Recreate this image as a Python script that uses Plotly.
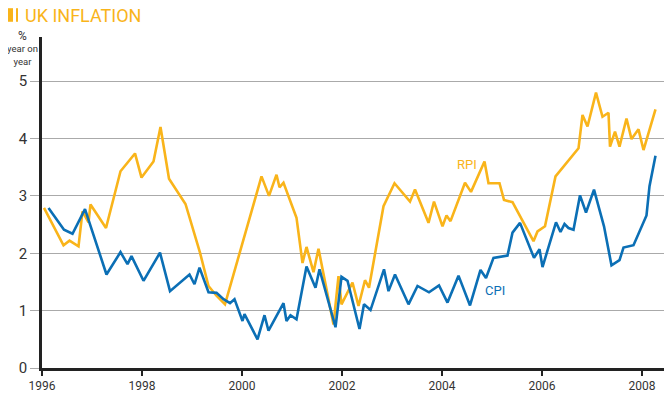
import plotly.graph_objects as go

# RPI, % year on year
rpi_x = [1996.04, 1996.43, 1996.55, 1996.73, 1996.81, 1996.93, 1996.97, 1997.28,
         1997.57, 1997.86, 1997.99, 1998.23, 1998.37, 1998.54, 1998.87, 1999.16,
         1999.33, 1999.49, 1999.66, 2000.39, 2000.54, 2000.69, 2000.75, 2000.83,
         2001.09, 2001.21, 2001.29, 2001.43, 2001.53, 2001.83, 2001.93, 2001.99,
         2002.21, 2002.33, 2002.46, 2002.54, 2002.83, 2003.05, 2003.36, 2003.46,
         2003.73, 2003.84, 2004.01, 2004.09, 2004.17, 2004.46, 2004.58, 2004.85,
         2004.93, 2005.15, 2005.24, 2005.41, 2005.83, 2005.91, 2006.06, 2006.27,
         2006.73, 2006.81, 2006.91, 2007.08, 2007.21, 2007.33, 2007.36, 2007.46,
         2007.55, 2007.69, 2007.79, 2007.93, 2008.03, 2008.27]
rpi_y = [2.79, 2.14, 2.22, 2.12, 2.73, 2.54, 2.85, 2.44,
         3.43, 3.74, 3.32, 3.60, 4.20, 3.30, 2.86, 2.01,
         1.43, 1.26, 1.11, 3.34, 3.00, 3.37, 3.15, 3.23,
         2.62, 1.83, 2.11, 1.67, 2.08, 0.76, 1.60, 1.11,
         1.49, 1.08, 1.53, 1.40, 2.82, 3.22, 2.90, 3.11,
         2.53, 2.90, 2.47, 2.66, 2.56, 3.23, 3.07, 3.60,
         3.22, 3.22, 2.93, 2.89, 2.21, 2.38, 2.47, 3.34,
         3.83, 4.41, 4.21, 4.80, 4.38, 4.45, 3.86, 4.12,
         3.86, 4.35, 3.99, 4.16, 3.80, 4.51]

# CPI, % year on year
cpi_x = [1996.13, 1996.44, 1996.61, 1996.86, 1997.29, 1997.57, 1997.71, 1997.79,
         1998.03, 1998.36, 1998.56, 1998.95, 1999.05, 1999.15, 1999.33, 1999.49,
         1999.63, 1999.76, 1999.85, 2000.01, 2000.05, 2000.31, 2000.45, 2000.53,
         2000.83, 2000.89, 2000.97, 2001.09, 2001.29, 2001.47, 2001.55, 2001.87,
         2001.99, 2002.11, 2002.35, 2002.44, 2002.57, 2002.84, 2002.93, 2003.06,
         2003.33, 2003.51, 2003.74, 2003.94, 2004.11, 2004.33, 2004.56, 2004.77,
         2004.88, 2005.03, 2005.31, 2005.41, 2005.56, 2005.84, 2005.95, 2006.01,
         2006.28, 2006.37, 2006.45, 2006.53, 2006.63, 2006.76, 2006.88, 2007.04,
         2007.24, 2007.39, 2007.55, 2007.63, 2007.83, 2008.09, 2008.15, 2008.27]
cpi_y = [2.79, 2.41, 2.34, 2.77, 1.63, 2.02, 1.81, 1.95,
         1.52, 2.01, 1.34, 1.63, 1.46, 1.75, 1.32, 1.31,
         1.20, 1.13, 1.20, 0.82, 0.94, 0.50, 0.92, 0.65,
         1.13, 0.82, 0.92, 0.85, 1.77, 1.40, 1.72, 0.71,
         1.59, 1.52, 0.68, 1.11, 1.01, 1.72, 1.34, 1.63,
         1.11, 1.43, 1.32, 1.44, 1.14, 1.61, 1.09, 1.71,
         1.57, 1.92, 1.96, 2.36, 2.53, 1.92, 2.07, 1.76,
         2.54, 2.37, 2.51, 2.44, 2.41, 3.01, 2.71, 3.11,
         2.47, 1.79, 1.88, 2.10, 2.14, 2.66, 3.17, 3.70]

year_ticks = [1996, 1998, 2000, 2002, 2004, 2006, 2008]
value_ticks = [0, 1, 2, 3, 4, 5]

RPI_COLOR = "#F9B41A"
CPI_COLOR = "#0B6FB5"
TEXT_COLOR = "#333333"
FONT = "Roboto, Arial, sans-serif"

fig = go.Figure()

fig.add_trace(go.Scatter(x=rpi_x, y=rpi_y, mode="lines", name="RPI",
                         line=dict(color=RPI_COLOR, width=2.6)))
fig.add_trace(go.Scatter(x=cpi_x, y=cpi_y, mode="lines", name="CPI",
                         line=dict(color=CPI_COLOR, width=2.6)))

# series labels
fig.add_annotation(x=2004.5, y=3.55, text="RPI", showarrow=False,
                   font=dict(color=RPI_COLOR, size=13, family=FONT))
fig.add_annotation(x=2005.06, y=1.35, text="CPI", showarrow=False,
                   font=dict(color=CPI_COLOR, size=13, family=FONT))

# title with the two yellow bars in front of it
fig.add_annotation(xref="paper", yref="paper", x=-0.031, y=1.064,
                   xanchor="left", yanchor="middle", showarrow=False,
                   text="UK INFLATION",
                   font=dict(color=RPI_COLOR, size=18, family=FONT))
fig.update_layout(shapes=[
    dict(type="rect", xref="paper", yref="paper", x0=-0.0546, x1=-0.0465,
         y0=1.046, y1=1.087, fillcolor=RPI_COLOR, line_width=0),
    dict(type="rect", xref="paper", yref="paper", x0=-0.0417, x1=-0.0385,
         y0=1.046, y1=1.087, fillcolor=RPI_COLOR, line_width=0),
])

# y axis unit label
fig.add_annotation(xref="paper", yref="paper", x=-0.031, y=0.967,
                   xanchor="center", yanchor="middle", showarrow=False,
                   text="<span style='font-size:12px'>%</span><br>year on<br>year",
                   align="center",
                   font=dict(color=TEXT_COLOR, size=9.5, family=FONT))

# the page body adds an 8px offset, so the figure is sized to fit the window
fig.update_layout(
    width=664,
    height=394,
    margin=dict(l=34, r=7, t=29, b=34, autoexpand=False),
    plot_bgcolor="white",
    paper_bgcolor="white",
    showlegend=False,
    font=dict(family=FONT, color=TEXT_COLOR),
    xaxis=dict(
        range=[1996, 2008.46],
        tickvals=year_ticks,
        ticktext=[str(y) for y in year_ticks],
        showgrid=False,
        zeroline=False,
        showline=True,
        linecolor="#222222",
        linewidth=2.5,
        ticks="outside",
        ticklen=5,
        tickwidth=1.5,
        tickcolor="#222222",
        tickfont=dict(size=12, color=TEXT_COLOR, family=FONT),
        automargin=False,
    ),
    yaxis=dict(
        range=[0, 5.77],
        tickvals=value_ticks,
        showgrid=True,
        gridcolor="#AAAAAA",
        gridwidth=1.3,
        zeroline=False,
        showline=True,
        linecolor="#222222",
        linewidth=2.5,
        ticks="outside",
        ticklen=9,
        tickwidth=1.3,
        tickcolor="#AAAAAA",
        tickfont=dict(size=15, color=TEXT_COLOR, family=FONT),
        automargin=False,
    ),
)

fig.write_html("out.html")
